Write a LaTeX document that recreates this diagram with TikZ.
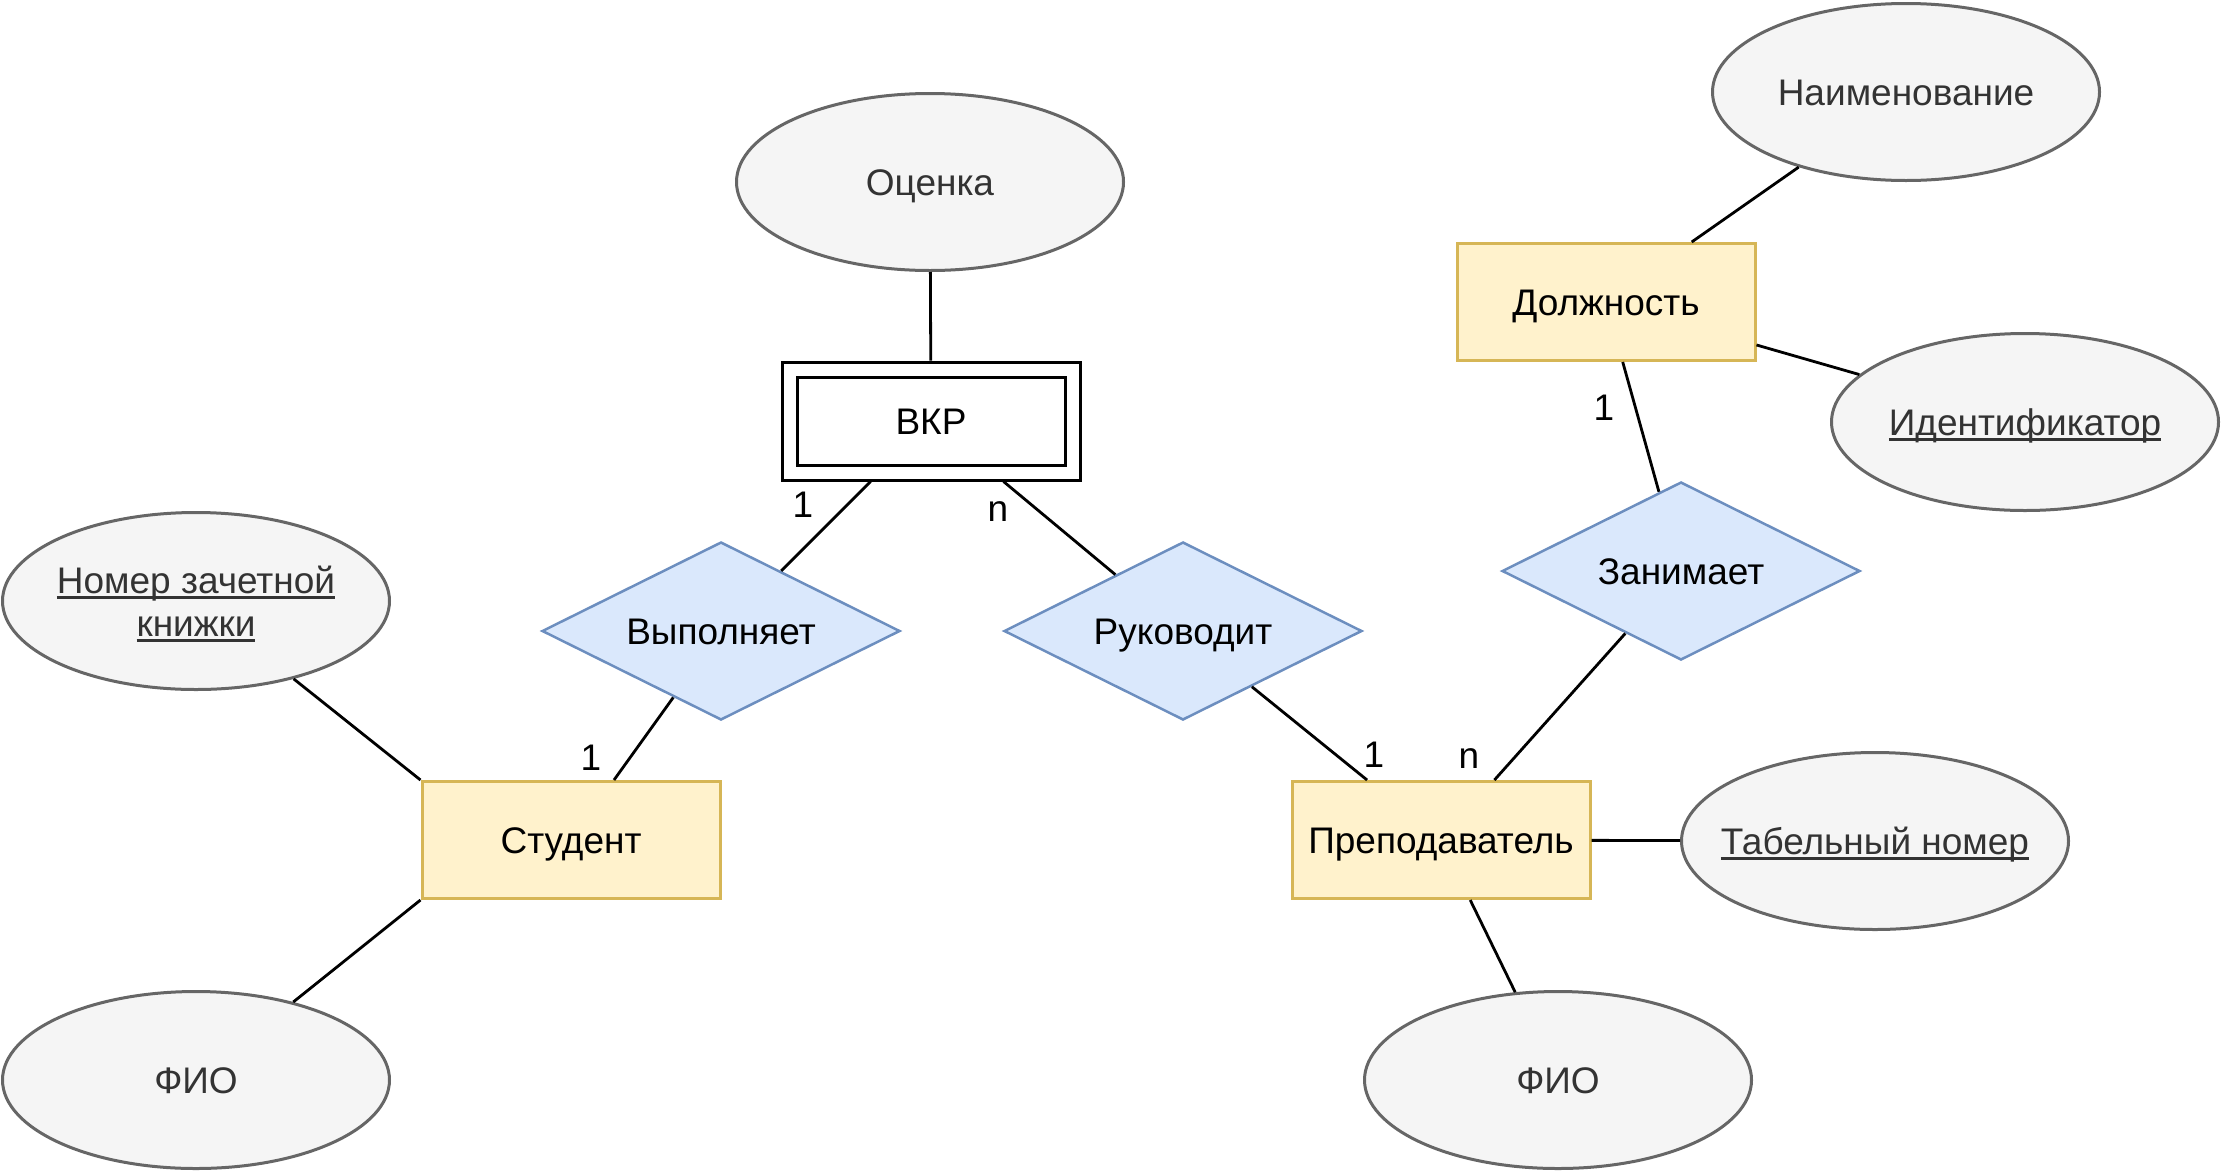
\documentclass[tikz,border=0pt]{standalone}
\usepackage{fontspec}
\setmainfont{Liberation Sans}
\usetikzlibrary{shapes.geometric}
\definecolor{entfill}{HTML}{FFF2CC}
\definecolor{entdraw}{HTML}{D6B656}
\definecolor{relfill}{HTML}{DAE8FC}
\definecolor{reldraw}{HTML}{6C8EBF}
\definecolor{attrfill}{HTML}{F5F5F5}
\definecolor{attrdraw}{HTML}{666666}
\definecolor{attrtext}{HTML}{333333}
\newcommand{\keyattr}[1]{\setbox0\hbox{#1}\leavevmode\rlap{\smash{\rule[-6pt]{\wd0}{3pt}}}\box0}
\begin{document}
\begin{tikzpicture}[x=1pt,y=-1pt,
        every node/.style={font=\fontsize{37}{43}\selectfont},
        oneline/.style={text height=33pt,text depth=7pt},
        entity/.style={oneline,rectangle,draw=entdraw,fill=entfill,line width=3pt,
            minimum width=298pt,minimum height=117pt,inner sep=0pt},
        weak/.style={oneline,rectangle,draw=black,fill=white,double=white,line width=3pt,
            double distance=12pt,minimum width=283pt,minimum height=103pt,inner sep=0pt,
            outer sep=9pt},
        rel/.style={oneline,diamond,draw=reldraw,fill=relfill,line width=2.5pt,aspect=2,
            minimum width=358pt,minimum height=178pt,inner sep=0pt},
        attr/.style={oneline,ellipse,draw=attrdraw,fill=attrfill,text=attrtext,line width=3pt,
            minimum width=387pt,minimum height=177pt,inner ysep=0pt,inner xsep=-40pt,
            align=center},
        conn/.style={draw=black,line width=2.8pt},
        card/.style={oneline,inner sep=0pt}]
    \useasboundingbox (0,0) rectangle (2226,1173);
    % entities and relations
    \node[weak] (vkr) at (931,421) {ВКР};
    \node[entity] (student) at (571,840) {Студент};
    \node[entity] (prep) at (1441,840) {Преподаватель};
    \node[entity] (dolzh) at (1606,302) {Должность};
    \node[rel] (vyp) at (721,631) {Выполняет};
    \node[rel] (ruk) at (1183,631) {Руководит};
    \node[rel] (zan) at (1681,571) {Занимает};
    % attributes
    \node[attr] (ocenka) at (930,182) {Оценка};
    \node[attr] (naim) at (1906,92) {Наименование};
    \node[attr] (ident) at (2025,422) {\keyattr{Идентификатор}};
    \node[attr,text height=,text depth=] (nomer) at (196,601)
        {\keyattr{Номер зачетной}\\\keyattr{книжки}};
    \node[attr] (fioa) at (196,1080) {ФИО};
    \node[attr] (tabel) at (1875,841) {\keyattr{Табельный номер}};
    \node[attr] (fiob) at (1558,1080) {ФИО};
    % links
    \draw[conn] (ocenka) -- (vkr);
    \draw[conn] (vkr) -- (vyp);
    \draw[conn] (vkr) -- (ruk);
    \draw[conn] (vyp) -- (student);
    \draw[conn] (ruk) -- (prep);
    \draw[conn] (zan) -- (prep);
    \draw[conn] (dolzh) -- (zan);
    \draw[conn] (naim) -- (dolzh);
    \draw[conn] (dolzh) -- (ident);
    \draw[conn] (nomer) -- (student.north west);
    \draw[conn] (fioa) -- (student.south west);
    \draw[conn] (prep) -- (tabel);
    \draw[conn] (prep) -- (fiob);
    % cardinalities
    \node[card] (c1) at (803,504) {1};
    \node[card] (c2) at (998,508) {n};
    \node[card] (c3) at (591,757) {1};
    \node[card] (c4) at (1374,754) {1};
    \node[card] (c5) at (1469,755) {n};
    \node[card] (c6) at (1604,407) {1};
\end{tikzpicture}
\end{document}
